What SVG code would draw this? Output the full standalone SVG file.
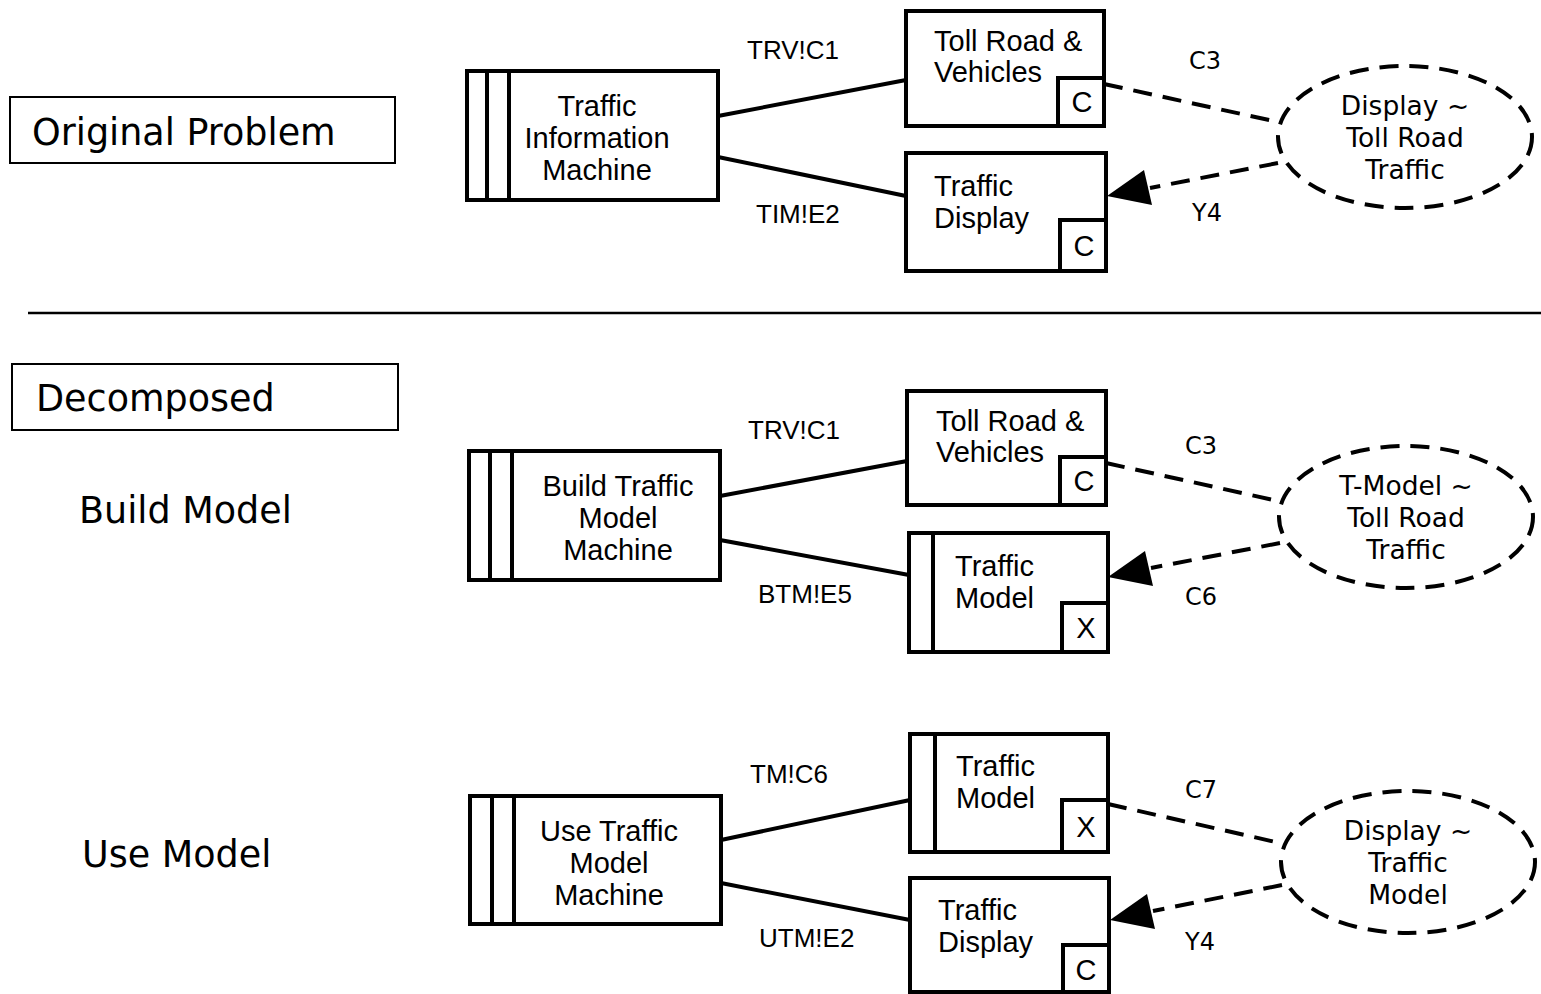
<svg xmlns="http://www.w3.org/2000/svg" width="1541" height="994" viewBox="0 0 1541 994">
<style>
.box{fill:#fff;stroke:#000;stroke-width:4}
.thin{fill:#fff;stroke:#000;stroke-width:2}
.ln{stroke:#000;stroke-width:4;fill:none}
.dash{stroke:#000;stroke-width:4;fill:none;stroke-dasharray:19 11}
.ell{fill:#fff;stroke:#000;stroke-width:4;stroke-dasharray:19 11}
.nt{font-family:"Liberation Sans",Arial,sans-serif;font-size:29px;fill:#000}
.lb{font-family:"Liberation Sans",Arial,sans-serif;font-size:26px;fill:#000}
.vt{font-family:"DejaVu Sans",Verdana,sans-serif;font-size:26.5px;fill:#000}
.vl{font-family:"DejaVu Sans",Verdana,sans-serif;font-size:24px;fill:#000}
.big{font-family:"DejaVu Sans",Verdana,sans-serif;font-size:36.5px;fill:#000}
.c{text-anchor:middle}
</style>

<g id="label-original">
<rect class="thin" x="10" y="97" width="385" height="66"/>
<text class="big" x="32" y="145">Original Problem</text>
</g>
<line x1="28" y1="313" x2="1541" y2="313" stroke="#000" stroke-width="2.5"/>
<g id="label-decomposed">
<rect class="thin" x="12" y="364" width="386" height="66"/>
<text class="big" x="36" y="411">Decomposed</text>
</g>
<text id="label-build" class="big" x="79" y="523">Build Model</text>
<text id="label-use" class="big" x="82" y="867">Use Model</text>

<g id="connectors">
<line class="ln" x1="718" y1="116" x2="906" y2="80"/>
<line class="ln" x1="718" y1="157" x2="906" y2="196"/>
<line class="dash" x1="1104" y1="84" x2="1278" y2="122"/>
<line class="dash" x1="1278" y1="163" x2="1150" y2="188"/>
<path d="M1107,196 L1144,170 L1152,205 Z" fill="#000"/>

<line class="ln" x1="720" y1="496" x2="907" y2="461"/>
<line class="ln" x1="720" y1="540" x2="909" y2="575"/>
<line class="dash" x1="1106" y1="463" x2="1278" y2="501"/>
<line class="dash" x1="1280" y1="543" x2="1151" y2="568"/>
<path d="M1108,577 L1145,551 L1153,586 Z" fill="#000"/>

<line class="ln" x1="721" y1="840" x2="910" y2="800"/>
<line class="ln" x1="721" y1="883" x2="910" y2="920"/>
<line class="dash" x1="1108" y1="804" x2="1280" y2="843"/>
<line class="dash" x1="1282" y1="885" x2="1153" y2="911"/>
<path d="M1110,920 L1147,894 L1155,929 Z" fill="#000"/>

<text class="lb" x="747" y="59">TRV!C1</text>
<text class="lb" x="756" y="223">TIM!E2</text>
<text class="vl" x="1189" y="69">C3</text>
<text class="vl" x="1192" y="221">Y4</text>

<text class="lb" x="748" y="439">TRV!C1</text>
<text class="lb" x="758" y="603">BTM!E5</text>
<text class="vl" x="1185" y="454">C3</text>
<text class="vl" x="1185" y="605">C6</text>

<text class="lb" x="750" y="783">TM!C6</text>
<text class="lb" x="759" y="947">UTM!E2</text>
<text class="vl" x="1185" y="798">C7</text>
<text class="vl" x="1185" y="950">Y4</text>
</g>

<g id="tim">
<rect class="box" x="467" y="71" width="251" height="129"/>
<line class="ln" x1="487" y1="71" x2="487" y2="200"/>
<line class="ln" x1="509" y1="71" x2="509" y2="200"/>
<text class="nt c" x="597" y="116">Traffic</text>
<text class="nt c" x="597" y="148">Information</text>
<text class="nt c" x="597" y="180">Machine</text>
</g>
<g id="trv1">
<rect class="box" x="906" y="11" width="198" height="115"/>
<text class="nt" x="934" y="51">Toll Road &amp;</text>
<text class="nt" x="934" y="82">Vehicles</text>
<rect class="box" x="1058" y="78" width="46" height="48"/>
<text class="nt c" x="1082" y="112">C</text>
</g>
<g id="td1">
<rect class="box" x="906" y="153" width="200" height="118"/>
<text class="nt" x="934" y="196">Traffic</text>
<text class="nt" x="934" y="228">Display</text>
<rect class="box" x="1060" y="220" width="46" height="51"/>
<text class="nt c" x="1084" y="256">C</text>
</g>
<g id="req1">
<ellipse class="ell" cx="1405" cy="137" rx="127" ry="71"/>
<text class="vt c" x="1405" y="115">Display ~</text>
<text class="vt c" x="1405" y="147">Toll Road</text>
<text class="vt c" x="1405" y="179">Traffic</text>
</g>

<g id="btm">
<rect class="box" x="469" y="451" width="251" height="129"/>
<line class="ln" x1="490" y1="451" x2="490" y2="580"/>
<line class="ln" x1="512" y1="451" x2="512" y2="580"/>
<text class="nt c" x="618" y="496">Build Traffic</text>
<text class="nt c" x="618" y="528">Model</text>
<text class="nt c" x="618" y="560">Machine</text>
</g>
<g id="trv2">
<rect class="box" x="907" y="391" width="199" height="114"/>
<text class="nt" x="936" y="431">Toll Road &amp;</text>
<text class="nt" x="936" y="462">Vehicles</text>
<rect class="box" x="1060" y="457" width="46" height="48"/>
<text class="nt c" x="1084" y="491">C</text>
</g>
<g id="tm2">
<rect class="box" x="909" y="533" width="199" height="119"/>
<line class="ln" x1="933" y1="533" x2="933" y2="652"/>
<text class="nt" x="955" y="576">Traffic</text>
<text class="nt" x="955" y="608">Model</text>
<rect class="box" x="1062" y="603" width="46" height="49"/>
<text class="nt c" x="1086" y="638">X</text>
</g>
<g id="req2">
<ellipse class="ell" cx="1406" cy="517" rx="127" ry="71"/>
<text class="vt c" x="1406" y="495">T-Model ~</text>
<text class="vt c" x="1406" y="527">Toll Road</text>
<text class="vt c" x="1406" y="559">Traffic</text>
</g>

<g id="utm">
<rect class="box" x="470" y="796" width="251" height="128"/>
<line class="ln" x1="492" y1="796" x2="492" y2="924"/>
<line class="ln" x1="514" y1="796" x2="514" y2="924"/>
<text class="nt c" x="609" y="841">Use Traffic</text>
<text class="nt c" x="609" y="873">Model</text>
<text class="nt c" x="609" y="905">Machine</text>
</g>
<g id="tm3">
<rect class="box" x="910" y="734" width="198" height="118"/>
<line class="ln" x1="935" y1="734" x2="935" y2="852"/>
<text class="nt" x="956" y="776">Traffic</text>
<text class="nt" x="956" y="808">Model</text>
<rect class="box" x="1062" y="800" width="46" height="52"/>
<text class="nt c" x="1086" y="837">X</text>
</g>
<g id="td3">
<rect class="box" x="910" y="878" width="199" height="114"/>
<text class="nt" x="938" y="920">Traffic</text>
<text class="nt" x="938" y="952">Display</text>
<rect class="box" x="1063" y="945" width="46" height="47"/>
<text class="nt c" x="1086" y="980">C</text>
</g>
<g id="req3">
<ellipse class="ell" cx="1408" cy="862" rx="127" ry="71"/>
<text class="vt c" x="1408" y="840">Display ~</text>
<text class="vt c" x="1408" y="872">Traffic</text>
<text class="vt c" x="1408" y="904">Model</text>
</g>
</svg>
